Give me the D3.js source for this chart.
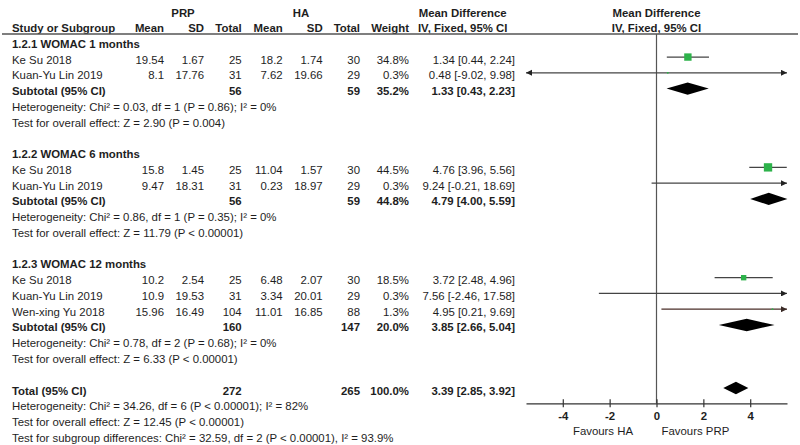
<!DOCTYPE html>
<html><head><meta charset="utf-8">
<script src="https://cdn.jsdelivr.net/npm/d3@7"></script>
<style>
html,body{margin:0;padding:0;background:#fff;}
svg{display:block;font-family:"Liberation Sans",Arial,sans-serif;}
</style></head>
<body><svg id="c" width="800" height="445"></svg>
<script>
// ---------------- data ----------------
const groupLabels = ["1.2.1 WOMAC 1 months", "1.2.2 WOMAC 6 months", "1.2.3 WOMAC 12 months"];
const studyNames = ["Ke Su 2018", "Kuan-Yu Lin 2019", "Ke Su 2018", "Kuan-Yu Lin 2019", "Ke Su 2018", "Kuan-Yu Lin 2019", "Wen-xing Yu 2018"];
const studyGroup = [0, 0, 1, 1, 2, 2, 2];
const prpMean = [19.54, 8.1, 15.8, 9.47, 10.2, 10.9, 15.96];
const prpSD   = [1.67, 17.76, 1.45, 18.31, 2.54, 19.53, 16.49];
const prpN    = [25, 31, 25, 31, 25, 31, 104];
const haMean  = [18.2, 7.62, 11.04, 0.23, 6.48, 3.34, 11.01];
const haSD    = [1.74, 19.66, 1.57, 18.97, 2.07, 20.01, 16.85];
const haN     = [30, 29, 30, 29, 30, 29, 88];
const weights = [34.8, 0.3, 44.5, 0.3, 18.5, 0.3, 1.3];
const md      = [1.34, 0.48, 4.76, 9.24, 3.72, 7.56, 4.95];
const ciLo    = [0.44, -9.02, 3.96, -0.21, 2.48, -2.46, 0.21];
const ciHi    = [2.24, 9.98, 5.56, 18.69, 4.96, 17.58, 9.69];

const subPrpN   = [56, 56, 160];
const subHaN    = [59, 59, 147];
const subWeight = [35.2, 44.8, 20.0];
const subMd     = [1.33, 4.79, 3.85];
const subLo     = [0.43, 4.00, 2.66];
const subHi     = [2.23, 5.59, 5.04];
const subHet    = ["Heterogeneity: Chi² = 0.03, df = 1 (P = 0.86); I² = 0%",
                   "Heterogeneity: Chi² = 0.86, df = 1 (P = 0.35); I² = 0%",
                   "Heterogeneity: Chi² = 0.78, df = 2 (P = 0.68); I² = 0%"];
const subTest   = ["Test for overall effect: Z = 2.90 (P = 0.004)",
                   "Test for overall effect: Z = 11.79 (P < 0.00001)",
                   "Test for overall effect: Z = 6.33 (P < 0.00001)"];

const totalPrpN = 272, totalHaN = 265, totalWeight = 100.0;
const totalMd = 3.39, totalLo = 2.85, totalHi = 3.92;
const totalNotes = ["Heterogeneity: Chi² = 34.26, df = 6 (P < 0.00001); I² = 82%",
                    "Test for overall effect: Z = 12.45 (P < 0.00001)",
                    "Test for subgroup differences: Chi² = 32.59, df = 2 (P < 0.00001), I² = 93.9%"];

const tickValues = [-4, -2, 0, 2, 4];
const axisDomain = [-5.57, 5.57];
const favoursLeft = "Favours HA", favoursRight = "Favours PRP";

// ---------------- layout ----------------
const svg = d3.select("#c");
const FS = 11.4;
const txtCol = "#1e1e1e";
const green = "#2db24a";
const x = d3.scaleLinear().domain(axisDomain).range([526, 787]);
const rowY = i => 41.3 + i * 15.76;
const col = {name: 12, pm: 164, psd: 204, pn: 241.7, hm: 282.7, hsd: 322.7, hn: 360, w: 409, ci: 515};

// build rows
const rows = [];
groupLabels.forEach((g, gi) => {
  rows.push({type: "group", gi});
  studyNames.forEach((s, si) => { if (studyGroup[si] === gi) rows.push({type: "study", si}); });
  rows.push({type: "sub", gi});
  rows.push({type: "note", text: subHet[gi]});
  rows.push({type: "note", text: subTest[gi]});
  rows.push({type: "blank"});
});
rows.push({type: "total"});
totalNotes.forEach(t => rows.push({type: "note", text: t}));

function txt(xp, y, s, anchor, bold) {
  svg.append("text").attr("x", xp).attr("y", y).attr("text-anchor", anchor || "start")
    .attr("font-size", FS).attr("font-weight", bold ? "bold" : "normal")
    .attr("fill", txtCol).text(s);
}
const ciStr = (m, l, h) => `${m.toFixed(2)} [${l.toFixed(2)}, ${h.toFixed(2)}]`;

// header
txt(183, 16.7, "PRP", "middle", true);
txt(301, 16.7, "HA", "middle", true);
txt(462.7, 16.7, "Mean Difference", "middle", true);
txt(656.5, 16.7, "Mean Difference", "middle", true);
const hb = 31.5;
txt(col.name, hb, "Study or Subgroup", "start", true);
txt(col.pm, hb, "Mean", "end", true);
txt(col.psd, hb, "SD", "end", true);
txt(col.pn, hb, "Total", "end", true);
txt(col.hm, hb, "Mean", "end", true);
txt(col.hsd, hb, "SD", "end", true);
txt(col.hn, hb, "Total", "end", true);
txt(col.w, hb, "Weight", "end", true);
txt(462.7, hb, "IV, Fixed, 95% CI", "middle", true);
txt(656.5, hb, "IV, Fixed, 95% CI", "middle", true);
svg.append("line").attr("x1", 2).attr("x2", 798).attr("y1", 34).attr("y2", 34)
  .attr("stroke", "#555").attr("stroke-width", 1.3);

// axis
const axisY = 403.3;
svg.append("line").attr("x1", x(0)).attr("x2", x(0)).attr("y1", 34).attr("y2", axisY)
  .attr("stroke", "#555").attr("stroke-width", 1.2);
const ax = svg.append("g").attr("transform", `translate(0,${axisY})`)
  .call(d3.axisBottom(x).tickValues(tickValues).tickSizeInner(4).tickSizeOuter(0).tickPadding(5)
    .tickFormat(d3.format("d")));
ax.select(".domain").attr("stroke", "#333").attr("stroke-width", 1.2);
ax.selectAll(".tick line").attr("y1", -4).attr("stroke", "#333").attr("stroke-width", 1.2);
ax.selectAll(".tick text").attr("font-size", FS).attr("font-weight", "bold").attr("fill", txtCol)
  .attr("font-family", "Liberation Sans, Arial, sans-serif").text(d => String(d));
txt(x(-1), 434.7, favoursLeft, "end", false);
txt(x(0) + 5, 434.7, favoursRight, "start", false);

// arrow markers
const defs = svg.append("defs");
[["arrDark", "#222"], ["arrBrown", "#3a2a26"]].forEach(([id, c]) => {
  defs.append("marker").attr("id", id).attr("viewBox", "0 0 6 6").attr("refX", 6).attr("refY", 3)
    .attr("markerUnits", "userSpaceOnUse").attr("markerWidth", 6).attr("markerHeight", 6).attr("orient", "auto")
    .append("path").attr("d", "M0,0 L6,3 L0,6 Z").attr("fill", c);
});

function ciLine(y, lo, hi, color, mk) {
  const [d0, d1] = axisDomain;
  const l = Math.max(lo, d0), h = Math.min(hi, d1);
  const ln = svg.append("line").attr("x1", x(l)).attr("x2", x(h)).attr("y1", y).attr("y2", y)
    .attr("stroke", color).attr("stroke-width", 1.3);
  if (hi > d1) ln.attr("marker-end", `url(#${mk})`);
  if (lo < d0) {
    svg.append("path").attr("d", `M${x(d0)},${y} l6,-3 l0,6 Z`).attr("fill", "#222");
  }
}

function diamond(y, m, lo, hi) {
  svg.append("path")
    .attr("d", `M${x(lo)},${y} L${x(m)},${y - 6.2} L${x(hi)},${y} L${x(m)},${y + 6.2} Z`)
    .attr("fill", "#000");
}

rows.forEach((r, i) => {
  const y = rowY(i), tb = y + 6.5;
  if (r.type === "group") {
    txt(col.name, tb, groupLabels[r.gi], "start", true);
  } else if (r.type === "study") {
    const s = r.si;
    txt(col.name, tb, studyNames[s]);
    txt(col.pm, tb, String(prpMean[s]), "end");
    txt(col.psd, tb, String(prpSD[s]), "end");
    txt(col.pn, tb, String(prpN[s]), "end");
    txt(col.hm, tb, String(haMean[s]), "end");
    txt(col.hsd, tb, String(haSD[s]), "end");
    txt(col.hn, tb, String(haN[s]), "end");
    txt(col.w, tb, weights[s].toFixed(1) + "%", "end");
    txt(col.ci, tb, ciStr(md[s], ciLo[s], ciHi[s]), "end");
    const brown = studyNames[s].startsWith("Wen");
    ciLine(y, ciLo[s], ciHi[s], brown ? "#4a2e28" : "#444", brown ? "arrBrown" : "arrDark");
    if (md[s] >= axisDomain[0] && md[s] <= axisDomain[1]) {
      const side = Math.max(1.6, 1.25 * Math.sqrt(weights[s]));
      svg.append("rect").attr("x", x(md[s]) - side / 2).attr("y", y - side / 2)
        .attr("width", side).attr("height", side).attr("fill", green);
    }
  } else if (r.type === "sub") {
    const g = r.gi;
    txt(col.name, tb, "Subtotal (95% CI)", "start", true);
    txt(col.pn, tb, String(subPrpN[g]), "end", true);
    txt(col.hn, tb, String(subHaN[g]), "end", true);
    txt(col.w, tb, subWeight[g].toFixed(1) + "%", "end", true);
    txt(col.ci, tb, ciStr(subMd[g], subLo[g], subHi[g]), "end", true);
    diamond(y, subMd[g], subLo[g], subHi[g]);
  } else if (r.type === "note") {
    txt(col.name, tb, r.text);
  } else if (r.type === "total") {
    txt(col.name, tb, "Total (95% CI)", "start", true);
    txt(col.pn, tb, String(totalPrpN), "end", true);
    txt(col.hn, tb, String(totalHaN), "end", true);
    txt(col.w, tb, totalWeight.toFixed(1) + "%", "end", true);
    txt(col.ci, tb, ciStr(totalMd, totalLo, totalHi), "end", true);
    diamond(y, totalMd, totalLo, totalHi);
  }
});
</script></body></html>
